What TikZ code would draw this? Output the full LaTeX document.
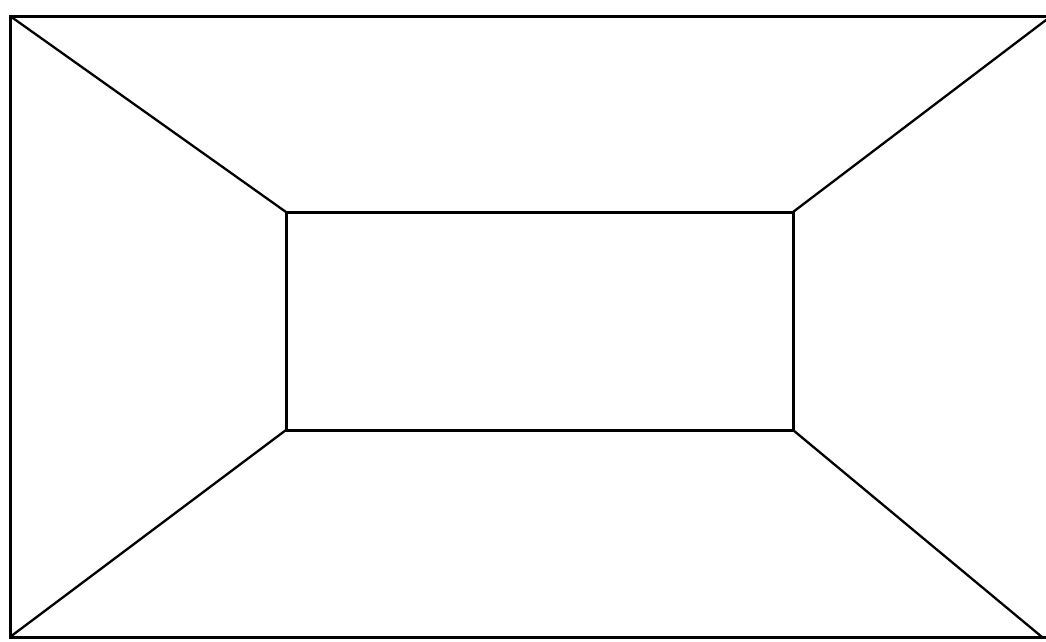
\documentclass[tikz,border=0pt]{standalone}
\usetikzlibrary{calc}

\begin{document}
\begin{tikzpicture}[
  x=1pt, y=-1pt,
  wall/.style={draw, line width=3pt, line join=miter},
  edge/.style={draw, line width=2.3pt, line cap=round}]
  \useasboundingbox (0,0) rectangle (1046,641);
  % outer frame
  \coordinate (otl) at (10,16);
  \coordinate (obr) at (1049,637);
  \coordinate (obl) at (10,637);
  \coordinate (etr) at (1046,20);
  \coordinate (ebr) at (1042,637);
  % back wall
  \coordinate (itl) at (286,212);
  \coordinate (itr) at (793,212);
  \coordinate (ibl) at (286,430);
  \coordinate (ibr) at (793,430);
  % frame and wall
  \draw[wall] (otl) rectangle (obr);
  \draw[wall] (itl) rectangle (ibr);
  % corner edges
  \foreach \a/\b in {otl/itl, obl/ibl, etr/itr, ebr/ibr}
    \draw[edge] (\a) -- (\b);
\end{tikzpicture}
\end{document}
